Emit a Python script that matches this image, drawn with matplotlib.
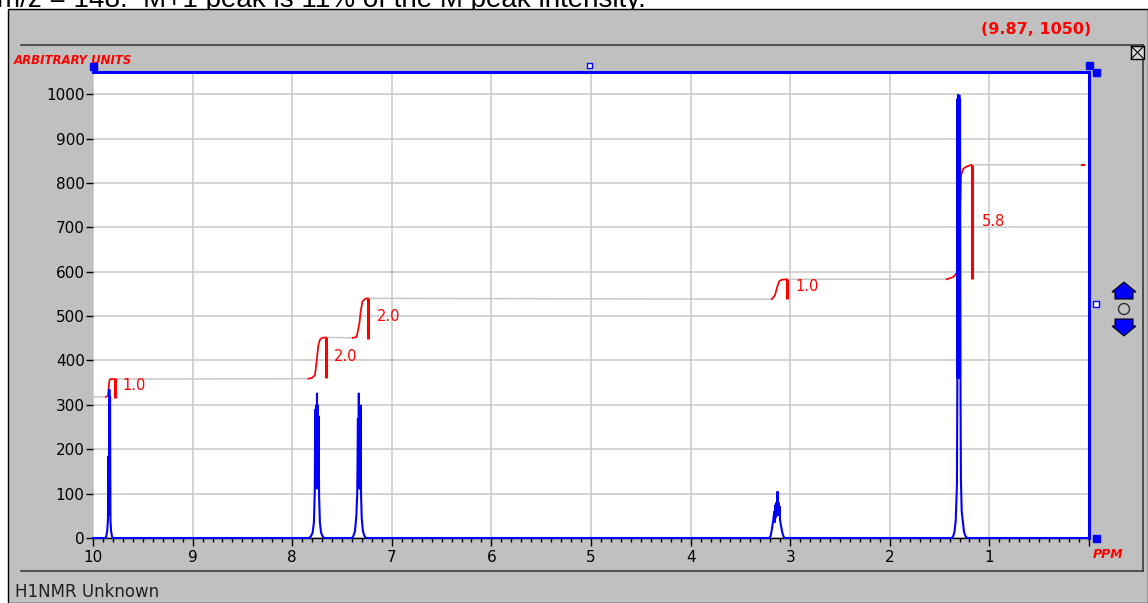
import matplotlib
matplotlib.use("Agg")
import matplotlib.pyplot as plt
from matplotlib.patches import Rectangle, Polygon, Ellipse
from matplotlib.lines import Line2D
from matplotlib.ticker import MultipleLocator

# ---------------- data ----------------
header = "m/z = 148.  M+1 peak is 11% of the M peak intensity."
title_coords = "(9.87, 1050)"
y_label_text = "ARBITRARY UNITS"
x_label_text = "PPM"
footer = "H1NMR Unknown"

x_ticks = list(range(0, 11))
x_tick_labels = [""] + [str(i) for i in range(1, 11)]
y_ticks = list(range(0, 1001, 100))

# spectrum multiplets: (ppm, intensity)
peak_cho = [(9.875, 0), (9.866, 4), (9.858, 15), (9.850, 40), (9.845, 185), (9.841, 50),
            (9.836, 335), (9.832, 130), (9.829, 320), (9.825, 40), (9.818, 15), (9.810, 4), (9.800, 0)]
peak_arom_a = [(7.830, 0), (7.812, 4), (7.795, 12), (7.782, 35), (7.774, 100), (7.768, 290),
               (7.764, 110), (7.759, 300), (7.755, 120), (7.751, 327), (7.747, 130), (7.743, 300),
               (7.739, 110), (7.735, 275), (7.730, 95), (7.722, 35), (7.710, 12), (7.695, 4), (7.680, 0)]
peak_arom_b = [(7.400, 0), (7.385, 5), (7.370, 15), (7.356, 50), (7.347, 100), (7.340, 270),
               (7.336, 110), (7.331, 327), (7.327, 120), (7.322, 280), (7.318, 110), (7.313, 300),
               (7.309, 100), (7.302, 45), (7.290, 15), (7.275, 5), (7.260, 0)]
peak_ch = [(3.210, 0), (3.196, 5), (3.184, 20), (3.170, 40), (3.160, 60), (3.154, 35), (3.148, 75),
           (3.143, 45), (3.138, 80), (3.133, 50), (3.127, 105), (3.122, 55), (3.117, 80), (3.112, 50),
           (3.107, 72), (3.102, 40), (3.094, 30), (3.082, 15), (3.070, 5), (3.055, 0)]
peak_ch3 = [(1.375, 0), (1.362, 5), (1.350, 15), (1.338, 40), (1.326, 120), (1.322, 330),
            (1.320, 990), (1.317, 360), (1.314, 1000), (1.311, 360), (1.308, 995), (1.305, 360),
            (1.302, 998), (1.299, 360), (1.295, 990), (1.290, 330), (1.286, 130), (1.278, 60),
            (1.268, 40), (1.256, 15), (1.242, 5), (1.225, 0)]
spectrum_start = (10.0, 0)
spectrum_end = (0.0, 0)

# integral curve pieces (ppm, integral value)
integral_start = (10.0, 318)
integral_end = (0.06, 841)
int_1 = [(9.872, 318), (9.850, 320), (9.845, 332), (9.840, 345), (9.834, 356), (9.826, 358), (9.780, 358)]
int_2 = [(7.838, 359), (7.800, 361), (7.771, 367), (7.754, 400), (7.738, 434), (7.721, 447),
         (7.700, 451), (7.664, 452)]
int_3 = [(7.393, 451), (7.353, 453), (7.326, 483), (7.313, 509), (7.296, 532), (7.269, 539), (7.242, 540)]
int_4 = [(3.186, 538), (3.153, 547), (3.130, 566), (3.109, 579), (3.085, 582), (3.035, 583)]
int_5 = [(1.429, 583), (1.362, 588), (1.322, 599), (1.308, 655), (1.295, 731), (1.285, 817),
         (1.262, 832), (1.228, 837), (1.178, 841)]
# integral bars: (ppm, low, high) and labels
int_bars = [(9.780, 316, 360), (7.664, 360, 452), (7.242, 449, 540), (3.035, 538, 583), (1.170, 583, 841)]
int_labels = ["1.0", "2.0", "2.0", "1.0", "5.8"]
int_label_pos = [(9.70, 343), (7.58, 408), (7.15, 500), (2.95, 566), (1.08, 714)]

# ---------------- figure ----------------
W, H = 1148, 603
fig = plt.figure(figsize=(W / 100, H / 100), dpi=100, facecolor="white")


def fx(x):
    return x / W


def fy(y):
    return 1 - y / H


BLUE = "#0000ff"
RED = "#ff0000"
GRID = "#c8c8c8"
PANEL = "#c0c0c0"

fig.text(fx(-3), fy(7), header, fontsize=20, family="Liberation Sans",
         va="baseline", ha="left", zorder=0)
fig.add_artist(Rectangle((fx(8), 0), 1 - fx(8), fy(9), transform=fig.transFigure,
                         facecolor=PANEL, edgecolor="black", lw=1, zorder=1))

# inner frame
for (x0, y0, x1, y1) in [(21, 45, 1143, 45), (1143, 45, 1143, 571), (21, 571, 1143, 571)]:
    fig.add_artist(Line2D([fx(x0), fx(x1)], [fy(y0), fy(y1)], transform=fig.transFigure,
                          color="#303030", lw=1.1, zorder=2))
# close box
fig.add_artist(Rectangle((fx(1131), fy(59)), 13 / W, 13 / H, transform=fig.transFigure,
                         facecolor="#d8d8d8", edgecolor="black", lw=1, zorder=2))
fig.add_artist(Line2D([fx(1131), fx(1144)], [fy(59), fy(46)], transform=fig.transFigure,
                      color="black", lw=0.8, zorder=2))
fig.add_artist(Line2D([fx(1131), fx(1144)], [fy(46), fy(59)], transform=fig.transFigure,
                      color="black", lw=0.8, zorder=2))

ax = fig.add_axes([fx(93), fy(538), (1089 - 93) / W, (538 - 72) / H])
ax.set_zorder(3)
ax.set_facecolor("white")
ax.set_xlim(10, 0)
ax.set_ylim(0, 1050)

ax.set_xticks(x_ticks)
ax.set_xticklabels(x_tick_labels)
ax.xaxis.set_minor_locator(MultipleLocator(0.1))
ax.set_yticks(y_ticks)
ax.tick_params(axis="x", which="major", direction="out", length=6, width=1, colors="black",
               labelsize=11, pad=3)
ax.tick_params(axis="x", which="minor", direction="out", length=3, width=1, colors="black")
ax.tick_params(axis="y", which="major", direction="out", length=5, width=1, colors="black",
               labelsize=11, pad=1)
for lab in ax.get_xticklabels() + ax.get_yticklabels():
    lab.set_family("DejaVu Sans")

ax.grid(True, which="major", color=GRID, lw=1.1)
ax.set_axisbelow(True)

ax.spines["left"].set_visible(False)
ax.spines["bottom"].set_color("black")
ax.spines["bottom"].set_linewidth(1)
ax.spines["top"].set_color(BLUE)
ax.spines["top"].set_linewidth(2.2)
ax.spines["right"].set_color(BLUE)
ax.spines["right"].set_linewidth(2.2)

# integral (gray full curve, red near peaks)
pieces = [int_1, int_2, int_3, int_4, int_5]
gray_path = [integral_start] + [p for piece in pieces for p in piece] + [integral_end]
ax.plot([p[0] for p in gray_path], [p[1] for p in gray_path], color=GRID, lw=1.1, zorder=2)
for piece in pieces:
    ax.plot([p[0] for p in piece], [p[1] for p in piece], color=RED, lw=1.2, zorder=4)
for (xb, lo, hi) in int_bars:
    ax.plot([xb, xb], [lo, hi], color=RED, lw=2.2, zorder=4, solid_capstyle="butt")
for txt, (xl, yl) in zip(int_labels, int_label_pos):
    ax.text(xl, yl, txt, color=RED, fontsize=10.5, ha="left", va="center", zorder=5)
ax.plot([integral_end[0] + 0.01, integral_end[0] - 0.01], [integral_end[1], integral_end[1]],
        color=RED, lw=1.5, zorder=4)

# spectrum
spectrum = [spectrum_start] + peak_cho + peak_arom_a + peak_arom_b + peak_ch + peak_ch3 + [spectrum_end]
ax.plot([p[0] for p in spectrum], [p[1] for p in spectrum], color=BLUE, lw=1.5, zorder=6,
        clip_on=False, solid_joinstyle="miter")

# labels in panel
fig.text(fx(14), fy(60), y_label_text, color=RED, fontsize=8.5, fontweight="bold",
         style="italic", va="center", ha="left", zorder=4)
fig.text(fx(1036), fy(29), title_coords, color=RED, fontsize=11.5, fontweight="bold",
         va="center", ha="center", zorder=4)
fig.text(fx(1108), fy(555), x_label_text, color=RED, fontsize=9, fontweight="bold",
         style="italic", va="center", ha="center", zorder=4)
fig.text(fx(15), fy(592), footer, color="#202020", fontsize=12, va="center", ha="left", zorder=4)


# UI markers
def square(cx, cy, size, filled):
    fig.add_artist(Rectangle((fx(cx - size / 2), fy(cy + size / 2)), size / W, size / H,
                             transform=fig.transFigure, facecolor=BLUE if filled else "white",
                             edgecolor=BLUE, lw=1, zorder=7))


square(93, 66, 7, True)
square(1089, 65, 7, True)
square(1096, 72, 7, True)
square(1096, 538, 7, True)
square(589, 65, 5, False)
square(1096, 304, 6, False)

up = [(1124, 282), (1136, 292), (1133, 292), (1133, 299), (1115, 299), (1115, 292), (1112, 292)]
down = [(1115, 319), (1133, 319), (1133, 326), (1136, 326), (1124, 336), (1112, 326), (1115, 326)]
for shape in (up, down):
    fig.add_artist(Polygon([(fx(a), fy(b)) for a, b in shape], closed=True, transform=fig.transFigure,
                           facecolor=BLUE, edgecolor="black", lw=0.8, zorder=7))
fig.add_artist(Ellipse((fx(1124), fy(309)), 11 / W, 11 / H, transform=fig.transFigure,
                       facecolor="none", edgecolor="#303030", lw=1, zorder=7))

fig.savefig("out.png", dpi=100, facecolor=fig.get_facecolor())
